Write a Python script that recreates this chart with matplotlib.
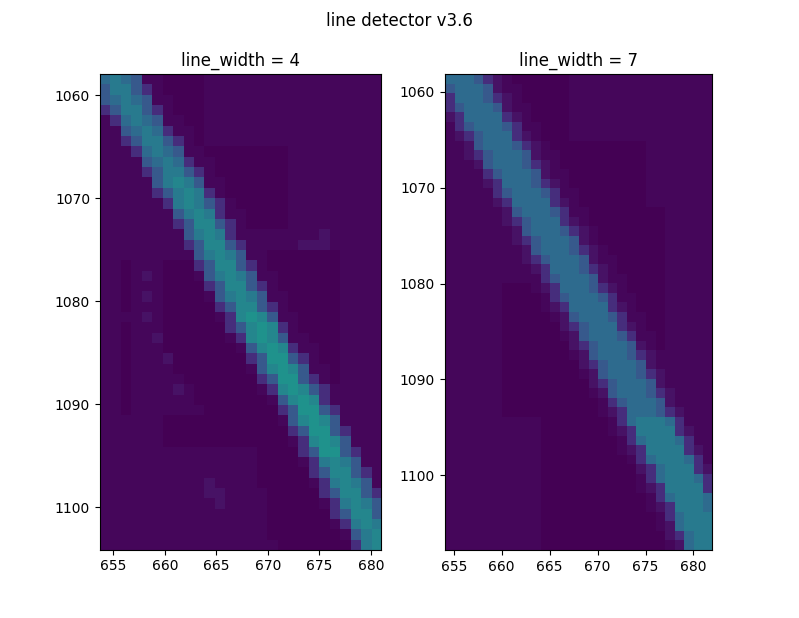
import numpy as np
import matplotlib
matplotlib.use("Agg")
import matplotlib.pyplot as plt

# intensity level for each digit used in the grids below (viridis fraction)
LEVELS = [0.0, 0.018, 0.05, 0.13, 0.21, 0.28, 0.35, 0.41, 0.46, 0.51]

# data extents (x_left, x_right, y_bottom, y_top)
EXTENT_4 = (653.7, 681.0, 1104.1, 1058.0)
EXTENT_7 = (654.06, 681.93, 1107.8, 1058.15)

TITLE = "line detector v3.6"
PANEL_TITLES = ["line_width = 4", "line_width = 7"]

# detector response, line_width = 4 (46 rows x 27 cols)
ROWS_4 = [
    "676511000011111111111111111",
    "577531000011111111111111111",
    "567651100011111111111111111",
    "357753100011111111111111111",
    "136765110011111111111111111",
    "115676311011111111111111111",
    "113577531011111111111111111",
    "111367651100000000111111111",
    "111156763110000000111111111",
    "111135775310000000111111111",
    "111115787511000000111111111",
    "111113578731000000111111111",
    "111111378753100000111111111",
    "111111157873110000111111111",
    "111111135885310000111111111",
    "111111115787311111111211111",
    "111111113588531111122211111",
    "111111111578751100000001111",
    "110111000358853100000001111",
    "110121000157875110000001111",
    "110111000035885310000001111",
    "110121000015787511000001111",
    "110111000003588531000001111",
    "111121000001389851100001111",
    "110111000000358983100001111",
    "110112000000138985110001111",
    "110111000000015898311001111",
    "110111200000003599531001111",
    "110111100000001589851101111",
    "110111110000000359953101111",
    "110111121000000138985311111",
    "110111111000000015898311111",
    "110111111100000003599531111",
    "111111000000000001589851111",
    "111111000000000000359953111",
    "111111000000000000138985111",
    "111111111111111000035995311",
    "111111111111111000013787511",
    "111111111111111000003588531",
    "111111111121111000001378751",
    "111111111122111100000358853",
    "111111111112111100000137875",
    "111111111111111100000035885",
    "111111111111111100000013787",
    "111111111111111100000001578",
    "111111111111111110000000378",
]

# detector response, line_width = 7 (50 rows x 28 cols)
ROWS_7 = [
    "6665321000000111111111111111",
    "5666521100000111111111111111",
    "3666532100000111111111111111",
    "3566652110000111111111111111",
    "2366663210000111111111111111",
    "1356665311000111111111111111",
    "1235666321000111111111111111",
    "1125666532100000000001111111",
    "1123566652110000000001111111",
    "1112566653210000000001111111",
    "1111356665211000000001111111",
    "1111236665321000000001111111",
    "1111135666531100000001111111",
    "1111123666632100000001111111",
    "1111112566653110000000011111",
    "1111112356663210000000011111",
    "1111111256665321000000011111",
    "1111111235666521000000011111",
    "1111111125666532100000011111",
    "1111111123566652110000011111",
    "1111111112366653210000011111",
    "1111111111356665211000011111",
    "1111110001236665321000011111",
    "1111110000135666531100011111",
    "1111110000123666632100011111",
    "1111110000012566653110011111",
    "1111110000002356663210011111",
    "1111110000001256665311011111",
    "1111110000000235666521011111",
    "1111110000000125666532111111",
    "1111110000000023566652111111",
    "1111110000000012566653211111",
    "1111110000000002356665211111",
    "1111110000000001256665321111",
    "1111110000000000135666521111",
    "1111110000000000123666532111",
    "1111111111000000013677763111",
    "1111111111000000012377773211",
    "1111111111000000001367776311",
    "1111111111000000001237777321",
    "1111111111000000000136777631",
    "1111111111000000000023677732",
    "1111111111000000000013677763",
    "1111111111000000000012377773",
    "1111111111000000000001367776",
    "1111111111000000000001237776",
    "1111111111000000000000136777",
    "1111111111000000000000126777",
    "1111111111000000000000023677",
    "1111111111000000000000012677",
]


def to_grid(rows):
    return np.array([[LEVELS[int(ch)] for ch in row] for row in rows])


fig, axes = plt.subplots(1, 2, figsize=(7.99, 6.18), dpi=100)
for ax, rows, ext, ttl in zip(axes, [ROWS_4, ROWS_7], [EXTENT_4, EXTENT_7], PANEL_TITLES):
    ax.imshow(to_grid(rows), cmap="viridis", vmin=0, vmax=1,
              interpolation="nearest", extent=ext, origin="upper", aspect="equal")
    ax.set_title(ttl)
fig.suptitle(TITLE)
fig.savefig("out.png", dpi=100)
